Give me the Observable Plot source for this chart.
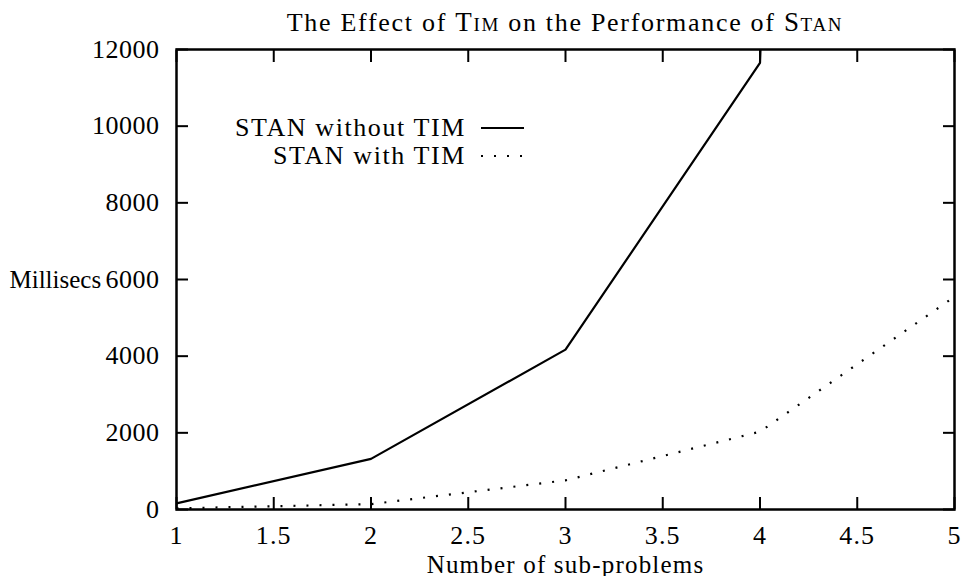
<!DOCTYPE html>
<html>
<head>
<meta charset="utf-8">
<script src="https://cdn.jsdelivr.net/npm/d3@7"></script>
<script src="https://cdn.jsdelivr.net/npm/@observablehq/plot@0.6"></script>
<style>
  html, body { margin: 0; padding: 0; background: #fff; }
  #wrap { position: relative; width: 961px; height: 576px; overflow: hidden; font-family: "Liberation Serif", serif; color: #000; }
  #title { position: absolute; left: 0; width: 1130px; top: 7px; text-align: center; font-size: 26px; line-height: 30px; white-space: nowrap; letter-spacing: 1.7px; }
  .sc { font-variant: small-caps; font-size: 27px; }
  #legend { position: absolute; left: 0; top: 0; font-size: 26px; letter-spacing: 1.6px; }
  .lrow { position: absolute; right: 0; display: flex; align-items: center; white-space: nowrap; }
  svg { display: block; }
  .tl text { letter-spacing: 1.2px; }
  .tly text { letter-spacing: 0.5px; }
</style>
</head>
<body>
<div id="wrap">
  <div id="title">The Effect of <span class="sc">Tim</span> on the Performance of <span class="sc">Stan</span></div>
</div>
<script>
const subProblems = [1, 2, 3, 4, 5];
const withoutTim = [160, 1320, 4170, 11650, 150000];
const withTim = [30, 140, 760, 2030, 5550];
const xTicks = [1, 1.5, 2, 2.5, 3, 3.5, 4, 4.5, 5];
const yTicks = [0, 2000, 4000, 6000, 8000, 10000, 12000];
const seriesNames = ["STAN without TIM", "STAN with TIM"];

const rowsWithout = subProblems.map((x, i) => ({x, y: withoutTim[i]}));
const rowsWith = subProblems.map((x, i) => ({x, y: withTim[i]}));

const FS = 26;
const chart = Plot.plot({
  width: 961,
  height: 576,
  marginLeft: 176,
  marginRight: 7,
  marginTop: 49,
  marginBottom: 67,
  style: {fontFamily: "Liberation Serif, serif", fontSize: FS + "px", color: "#000", background: "#fff"},
  x: {domain: [1, 5]},
  y: {domain: [0, 12000]},
  marks: [
    // inward ticks on all four sides
    Plot.axisX({anchor: "bottom", ticks: xTicks, tickSize: 12, dy: -12, text: null, label: null, strokeWidth: 2}),
    Plot.axisX({anchor: "top", ticks: xTicks, tickSize: 12, dy: 12, text: null, label: null, strokeWidth: 2}),
    Plot.axisY({anchor: "left", ticks: yTicks, tickSize: 12, dx: 12, text: null, label: null, strokeWidth: 2}),
    Plot.axisY({anchor: "right", ticks: yTicks, tickSize: 12, dx: -12, text: null, label: null, strokeWidth: 2}),
    // tick labels
    Plot.axisX({anchor: "bottom", ticks: xTicks, tickSize: 0, tickPadding: 16, label: null, tickFormat: d => String(d), fontSize: FS, className: "tl"}),
    Plot.axisY({anchor: "left", ticks: yTicks, tickSize: 0, tickPadding: 17, label: null, tickFormat: d => String(d), fontSize: FS, className: "tly"}),
    // axis labels
    Plot.text(["Millisecs"], {frameAnchor: "left", text: d => d, textAnchor: "start", dx: -167, fontSize: 25}),
    Plot.text(["Number of sub-problems"], {frameAnchor: "bottom", text: d => d, dy: 63, fontSize: 25, className: "tl"}),
    // data
    Plot.line(rowsWithout, {x: "x", y: "y", stroke: "#000", strokeWidth: 2.2, clip: "frame", strokeLinejoin: "miter"}),
    Plot.line(rowsWith, {x: "x", y: "y", stroke: "#000", strokeWidth: 2.2, strokeDasharray: "2,11", strokeLinecap: "butt", clip: "frame"}),
    Plot.frame({stroke: "#000", strokeWidth: 2.5})
  ]
});
const wrap = document.getElementById("wrap");
wrap.insertBefore(chart, wrap.firstChild);

// legend overlay (gnuplot-style: text right-aligned, sample on the right)
const legend = document.createElement("div");
legend.id = "legend";
const legendTops = [113, 141];
const samples = [
  '<line x1="0" y1="8" x2="43" y2="8" stroke="#000" stroke-width="2.2"/>',
  '<line x1="0" y1="8" x2="43" y2="8" stroke="#000" stroke-width="2.2" stroke-dasharray="2,11"/>'
];
seriesNames.forEach((name, i) => {
  const row = document.createElement("div");
  row.className = "lrow";
  row.style.position = "absolute";
  row.style.left = "0px";
  row.style.width = "524px";
  row.style.justifyContent = "flex-end";
  row.style.top = legendTops[i] + "px";
  row.style.height = "30px";
  row.innerHTML = `<span>${name}</span><svg width="43" height="16" style="margin-left:15px">${samples[i]}</svg>`;
  legend.appendChild(row);
});
wrap.appendChild(legend);
</script>
</body>
</html>
